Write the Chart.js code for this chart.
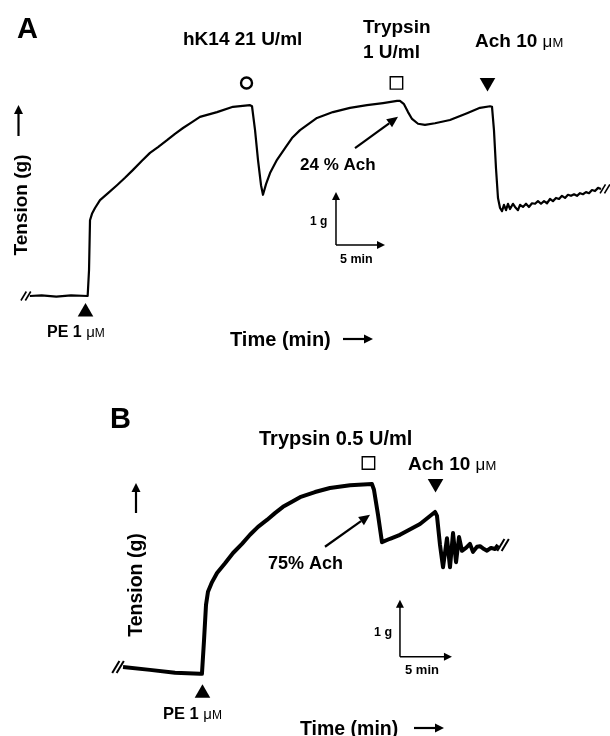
<!DOCTYPE html>
<html>
<head>
<meta charset="utf-8">
<script src="https://cdn.jsdelivr.net/npm/chart.js@4.4.1/dist/chart.umd.min.js"></script>
<style>
  html, body { margin: 0; padding: 0; background: #fff; }
  canvas { position: absolute; left: 0; }
  #chartA { top: 0; }
  #chartB { top: 370px; }
</style>
</head>
<body>
<canvas id="chartA" width="610" height="370"></canvas>
<canvas id="chartB" width="610" height="366"></canvas>
<script>
// ---- panel A: hK14 21 U/ml, trypsin 1 U/ml, Ach 10 uM ----
const timeA = [0.8, 2.0, 3.5, 5.0, 6.7,
  6.84, 6.94, 7.14, 7.45, 7.96, 8.78, 9.69, 10.51, 11.33, 12.24, 13.06, 13.88, 14.80, 15.61, 16.43, 17.35, 18.16, 19.90, 21.53, 23.27,
  23.47, 23.78, 24.08, 24.39, 24.59,
  24.90, 25.31, 26.02, 26.84, 27.55, 28.37, 30.10, 31.73, 33.47, 35.20, 36.84, 38.27, 38.57,
  38.98, 39.39, 39.80, 40.41, 41.12, 42.14, 43.67, 45.41, 46.73, 47.76,
  47.96, 48.16, 48.37, 48.57, 48.78, 48.98,
  49.18, 49.39, 49.59, 49.80, 50.10, 50.31, 50.61, 50.82, 51.12, 51.43, 51.73, 52.04, 52.35, 52.65,
  52.96, 53.27, 53.57, 53.88, 54.18, 54.49, 54.80, 55.10, 55.41, 55.71, 56.02, 56.33, 56.63, 56.94,
  57.24, 57.55, 57.86, 58.16, 58.47, 58.78, 59.08];
const tensionA = [0.00, 0.01, -0.01, 0.01, 0.00,
  0.49, 1.43, 1.55, 1.66, 1.81, 1.94, 2.09, 2.23, 2.38, 2.55, 2.70, 2.81, 2.94, 3.06, 3.17, 3.28, 3.38, 3.47, 3.57, 3.60,
  3.58, 3.13, 2.57, 2.09, 1.91,
  2.11, 2.32, 2.57, 2.79, 2.98, 3.13, 3.36, 3.47, 3.55, 3.60, 3.64, 3.68, 3.68,
  3.62, 3.47, 3.34, 3.25, 3.23, 3.26, 3.32, 3.45, 3.55, 3.58,
  3.57, 3.13, 2.40, 1.85, 1.66, 1.60,
  1.72, 1.62, 1.74, 1.64, 1.74, 1.68, 1.62, 1.72, 1.68, 1.74, 1.68, 1.75, 1.74, 1.79,
  1.74, 1.79, 1.75, 1.83, 1.79, 1.85, 1.83, 1.89, 1.85, 1.91, 1.89, 1.92, 1.89, 1.94,
  1.92, 1.96, 1.94, 2.00, 1.98, 2.04, 2.02];
// PE, hK14, trypsin, Ach
const eventTimesA = [6.48, 22.91, 38.21, 47.50];
const eventLevelsA = [-0.30, 4.02, 4.02, 4.03];
const eventKindsA = ['up', 'circle', 'square', 'down'];

// ---- panel B: trypsin 0.5 U/ml, Ach 10 uM ----
const timeB = [0.29, 2.88, 5.29, 7.69, 7.88,
  8.08, 8.27, 8.46, 8.85, 9.33, 10.10, 10.87, 11.73, 12.50, 13.27, 14.13, 14.90, 15.67, 16.54, 17.31, 18.75, 20.19, 22.12, 24.23,
  24.42, 24.81, 25.19,
  25.96, 26.92, 28.85, 30.29,
  30.48, 30.77, 31.06,
  31.44, 31.73, 32.02, 32.31, 32.60, 32.88,
  33.27, 33.65, 33.94, 34.33, 34.62, 35.00, 35.29, 35.67, 36.06, 36.35];
const tensionB = [0.14, 0.09, 0.04, 0.02, 0.02,
  0.61, 1.23, 1.46, 1.63, 1.79, 1.96, 2.14, 2.30, 2.46, 2.60, 2.72, 2.84, 2.95, 3.04, 3.12, 3.21, 3.28, 3.33, 3.35,
  3.25, 2.81, 2.33,
  2.39, 2.46, 2.65, 2.86,
  2.79, 2.28, 1.89,
  2.40, 1.89, 2.49, 1.98, 2.42, 2.18,
  2.23, 2.30, 2.16, 2.25, 2.26, 2.21, 2.18, 2.23, 2.21, 2.28];
// PE, trypsin, Ach
const eventTimesB = [7.93, 23.89, 30.34];
const eventLevelsB = [-0.32, 3.72, 3.36];
const eventKindsB = ['up', 'square', 'down'];

const FONT = '"Liberation Sans", Arial, Helvetica, sans-serif';

const markerStyle = {
  up:     { pointStyle: 'triangle', pointRadius: 9,   pointRotation: 0,   pointBackgroundColor: '#000', pointBorderWidth: 0 },
  down:   { pointStyle: 'triangle', pointRadius: 9,   pointRotation: 180, pointBackgroundColor: '#000', pointBorderWidth: 0 },
  circle: { pointStyle: 'circle',   pointRadius: 5.5, pointRotation: 0,   pointBackgroundColor: '#fff', pointBorderWidth: 2.4 },
  square: { pointStyle: 'rect',     pointRadius: 8.8, pointRotation: 0,   pointBackgroundColor: '#fff', pointBorderWidth: 1.4 }
};

function drawLabel(ctx, lab) {
  const parts = lab.parts || [[lab.text, 'bold', lab.size]];
  let total = 0;
  parts.forEach(p => {
    ctx.font = p[1] + ' ' + p[2] + 'px ' + FONT;
    total += ctx.measureText(p[0]).width;
  });
  ctx.save();
  ctx.translate(lab.x, lab.y);
  if (lab.rot) ctx.rotate(lab.rot);
  let x = lab.align === 'center' ? -total / 2 : 0;
  const base = 0.36 * lab.size;
  ctx.fillStyle = '#000';
  ctx.textBaseline = 'alphabetic';
  ctx.textAlign = 'left';
  parts.forEach(p => {
    ctx.font = p[1] + ' ' + p[2] + 'px ' + FONT;
    ctx.fillText(p[0], x, base);
    x += ctx.measureText(p[0]).width;
  });
  ctx.restore();
}

function drawArrow(ctx, x1, y1, x2, y2, head, half, lw) {
  const a = Math.atan2(y2 - y1, x2 - x1);
  const bx = x2 - head * Math.cos(a), by = y2 - head * Math.sin(a);
  ctx.strokeStyle = '#000';
  ctx.lineWidth = lw;
  ctx.beginPath();
  ctx.moveTo(x1, y1);
  ctx.lineTo(bx, by);
  ctx.stroke();
  ctx.fillStyle = '#000';
  ctx.beginPath();
  ctx.moveTo(x2, y2);
  ctx.lineTo(bx + half * Math.sin(a), by - half * Math.cos(a));
  ctx.lineTo(bx - half * Math.sin(a), by + half * Math.cos(a));
  ctx.closePath();
  ctx.fill();
}

function drawBreak(ctx, cx, cy, h, lw) {
  ctx.strokeStyle = '#000';
  ctx.lineWidth = lw;
  [-2.2, 2.2].forEach(dx => {
    ctx.beginPath();
    ctx.moveTo(cx + dx - h * 0.3, cy + h / 2);
    ctx.lineTo(cx + dx + h * 0.3, cy - h / 2);
    ctx.stroke();
  });
}

// notes: labels (pixels), pointers (data), scale bar (data), break marks
function notesPlugin(notes) {
  return {
    id: 'notes',
    afterDatasetsDraw(chart) {
      const ctx = chart.ctx, xs = chart.scales.x, ys = chart.scales.y;
      const px = t => xs.getPixelForValue(t), py = g => ys.getPixelForValue(g);
      ctx.save();
      notes.labels.forEach(l => drawLabel(ctx, l));
      notes.axisArrows.forEach(a => drawArrow(ctx, a[0], a[1], a[2], a[3], 9, 4.5, 2.2));
      notes.pointers.forEach(p => drawArrow(ctx, px(p[0]), py(p[1]), px(p[2]), py(p[3]), 11, 5, 2.2));
      const sb = notes.scaleBar;
      const ox = px(sb.t), oy = py(sb.g);
      ctx.strokeStyle = '#000';
      ctx.lineWidth = 1.5;
      ctx.beginPath();
      ctx.moveTo(ox, oy);
      ctx.lineTo(ox, py(sb.g + 1) + 7);
      ctx.moveTo(ox, oy);
      ctx.lineTo(px(sb.t + 5) - 7, oy);
      ctx.stroke();
      drawArrow(ctx, ox, py(sb.g + 1) + 7, ox, py(sb.g + 1), 8, 4, 1.5);
      drawArrow(ctx, px(sb.t + 5) - 7, oy, px(sb.t + 5), oy, 8, 4, 1.5);
      const t = notes.time, g = notes.tension;
      drawBreak(ctx, px(t[0]) - notes.breakGap, py(g[0]), notes.breakH, notes.breakW);
      drawBreak(ctx, px(t[t.length - 1]) + notes.breakGap, py(g[g.length - 1]), notes.breakH, notes.breakW);
      ctx.restore();
    }
  };
}

function makeChart(id, time, tension, evT, evL, evK, lineW, frame, notes) {
  const trace = time.map((t, i) => ({ x: t, y: tension[i] }));
  const markers = evT.map((t, i) => Object.assign({
    data: [{ x: t, y: evL[i] }],
    showLine: false,
    pointBorderColor: '#000',
    clip: false
  }, markerStyle[evK[i]]));
  const H = document.getElementById(id).height;
  notes.time = time;
  notes.tension = tension;
  return new Chart(document.getElementById(id), {
    type: 'line',
    data: {
      datasets: [{
        data: trace,
        borderColor: '#000',
        borderWidth: lineW,
        pointRadius: 0,
        tension: 0,
        borderJoinStyle: 'round',
        clip: false
      }].concat(markers)
    },
    options: {
      responsive: false,
      animation: false,
      events: [],
      layout: { padding: 0, autoPadding: false },
      plugins: { legend: { display: false }, tooltip: { enabled: false } },
      scales: {
        x: { type: 'linear', display: false, min: -frame.x0 / frame.pxMin, max: (610 - frame.x0) / frame.pxMin },
        y: { type: 'linear', display: false, min: -(H - frame.y0) / frame.pxG, max: frame.y0 / frame.pxG }
      }
    },
    plugins: [notesPlugin(notes)]
  });
}

const MU = [['\u03bc', 'normal', 17], ['M', 'normal', 13]];

makeChart('chartA', timeA, tensionA, eventTimesA, eventLevelsA, eventKindsA, 2.2,
  { x0: 22, pxMin: 9.8, y0: 296, pxG: 53 },
  {
    labels: [
      { text: 'A', x: 17, y: 27.5, size: 29 },
      { text: 'hK14 21 U/ml', x: 183, y: 38.5, size: 19 },
      { text: 'Trypsin', x: 363, y: 26.5, size: 19 },
      { text: '1 U/ml', x: 363, y: 51, size: 19 },
      { parts: [['Ach 10 ', 'bold', 19]].concat(MU), x: 475, y: 40, size: 19 },
      { text: '24 % Ach', x: 300, y: 163.5, size: 17 },
      { text: '1 g', x: 310, y: 221, size: 12 },
      { text: '5 min', x: 340, y: 258, size: 12.5 },
      { parts: [['PE 1 ', 'bold', 16], ['\u03bc', 'normal', 15], ['M', 'normal', 12]], x: 47, y: 331, size: 16 },
      { text: 'Time (min)', x: 230, y: 339, size: 20 },
      { text: 'Tension (g)', x: 20, y: 205, size: 19, align: 'center', rot: -Math.PI / 2 }
    ],
    axisArrows: [[18.5, 136, 18.5, 105], [343, 339, 373, 339]],
    pointers: [[33.98, 2.79, 38.37, 3.38]],
    scaleBar: { t: 32.04, g: 0.96 },
    breakGap: 4, breakH: 9, breakW: 1.6
  });

makeChart('chartB', timeB, tensionB, eventTimesB, eventLevelsB, eventKindsB, 4,
  { x0: 120, pxMin: 10.4, y0: 305, pxG: 57 },
  {
    labels: [
      { text: 'B', x: 110, y: 48, size: 29 },
      { text: 'Trypsin 0.5 U/ml', x: 259, y: 68, size: 20 },
      { parts: [['Ach 10 ', 'bold', 19]].concat(MU), x: 408, y: 93, size: 19 },
      { text: '75% Ach', x: 268, y: 193, size: 18 },
      { text: '1 g', x: 374, y: 261, size: 12.5 },
      { text: '5 min', x: 405, y: 299, size: 13 },
      { parts: [['PE 1 ', 'bold', 16.5], ['\u03bc', 'normal', 15], ['M', 'normal', 12]], x: 163, y: 343, size: 16.5 },
      { text: 'Time (min)', x: 300, y: 358, size: 19.5 },
      { text: 'Tension (g)', x: 135, y: 215, size: 19.5, align: 'center', rot: -Math.PI / 2 }
    ],
    axisArrows: [[136, 143, 136, 113], [414, 358, 444, 358]],
    pointers: [[19.71, 2.25, 24.04, 2.81]],
    scaleBar: { t: 26.92, g: 0.32 },
    breakGap: 5, breakH: 12, breakW: 2
  });
</script>
</body>
</html>
